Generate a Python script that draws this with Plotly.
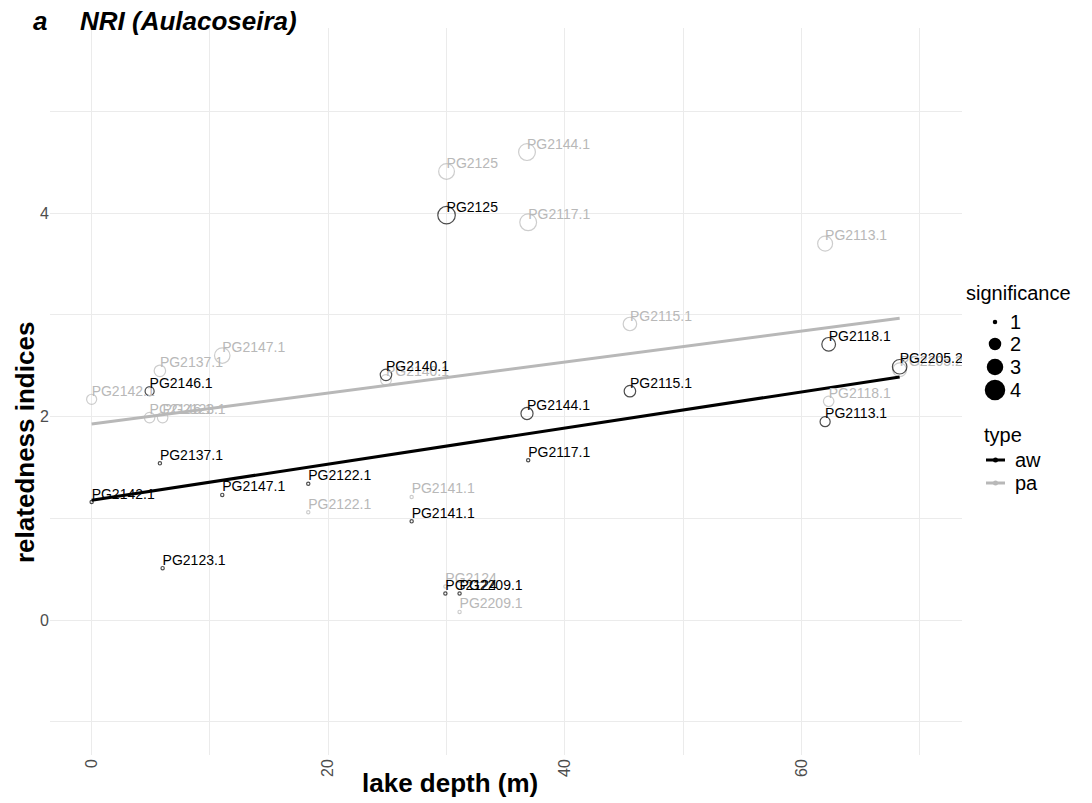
import numpy as np
import plotly.graph_objects as go

# ---------------- data ----------------
lakes = ["PG2142.1", "PG2146.1", "PG2123.1", "PG2137.1", "PG2147.1", "PG2122.1",
         "PG2140.1", "PG2141.1", "PG2125", "PG2124", "PG2209.1", "PG2144.1",
         "PG2117.1", "PG2115.1", "PG2113.1", "PG2118.1", "PG2205.2"]
depth = [0.0, 4.9, 6.0, 5.77, 11.04, 18.31, 24.88, 27.05, 30.0, 29.9, 31.1, 36.8,
         36.9, 45.5, 62.0, 62.3, 68.3]
aw_nri = [1.16, 2.25, 0.51, 1.54, 1.23, 1.34, 2.41, 0.97, 3.98, 0.26, 0.26, 2.03,
          1.57, 2.25, 1.95, 2.71, 2.49]
pa_nri = [2.17, 1.99, 1.99, 2.45, 2.60, 1.06, 2.36, 1.21, 4.41, 0.33, 0.08, 4.60,
          3.91, 2.91, 3.70, 2.15, 2.46]
aw_sig = [1.0, 1.72, 1.0, 1.0, 1.0, 1.0, 2.05, 1.0, 3.55, 1.0, 1.0, 2.2,
          1.0, 2.05, 1.85, 2.6, 2.8]
pa_sig = [1.85, 1.9, 1.9, 2.05, 3.05, 1.0, 1.94, 1.0, 3.12, 1.0, 1.0, 3.375,
          3.375, 2.55, 2.9, 1.9, 2.6]

sig_breaks = [1, 2, 3, 4]
type_labels = ["aw", "pa"]

# ---------------- styling ----------------
FONT = "Liberation Sans"
BLACK = "#000000"
GREY = "#B8B8B8"
GRID = "#EBEBEB"
TICK = "#4D4D4D"
size_px = [4.5, 12.5, 16.5, 20.5]   # size scale (significance -> diameter px)


def sig_to_diam(s):
    return np.interp(np.asarray(s, dtype=float), sig_breaks, size_px)


W, H = 1092, 803
L, R, T, B = 50, 962, 28, 755


def px(x):
    return (x - L) / (R - L)


def py(y):
    return (B - y) / (B - T)


fig = go.Figure()

series = [("pa", pa_nri, pa_sig, GREY), ("aw", aw_nri, aw_sig, BLACK)]

# points (open circles)
for name, vals, sig, col in series:
    fig.add_trace(go.Scatter(
        x=depth, y=vals, mode="markers", showlegend=False, hoverinfo="skip",
        marker=dict(symbol="circle-open", size=sig_to_diam(sig) - 1.2,
                    color=col, line=dict(width=1.2, color=col)),
    ))

# linear fits
for name, vals, sig, col in series:
    xs = np.array(depth)
    k, b = np.polyfit(xs, np.array(vals), 1)
    xl = np.array([xs.min(), xs.max()])
    fig.add_trace(go.Scatter(x=xl, y=k * xl + b, mode="lines", showlegend=False,
                             hoverinfo="skip", line=dict(color=col, width=3)))

# labels
for name, vals, sig, col in series:
    fig.add_trace(go.Scatter(
        x=depth, y=vals, mode="text", text=lakes, textposition="top right",
        textfont=dict(family=FONT, size=14, color=col), showlegend=False,
        hoverinfo="skip",
    ))

annotations = []
shapes = []

# titles
annotations.append(dict(text="a", x=px(31), y=py(21), xref="paper", yref="paper",
                        xanchor="left", yanchor="middle", showarrow=False,
                        font=dict(family=FONT, size=26, color=BLACK, weight="bold", style="italic")))
annotations.append(dict(text="NRI (Aulacoseira)", x=px(78), y=py(21), xref="paper", yref="paper",
                        xanchor="left", yanchor="middle", showarrow=False,
                        font=dict(family=FONT, size=26, color=BLACK, weight="bold", style="italic")))
annotations.append(dict(text="lake depth (m)", x=px(450), y=py(783), xref="paper", yref="paper",
                        xanchor="center", yanchor="middle", showarrow=False,
                        font=dict(family=FONT, size=26, color=BLACK, weight="bold")))
annotations.append(dict(text="relatedness indices", x=px(25), y=py(443), xref="paper", yref="paper",
                        xanchor="center", yanchor="middle", showarrow=False, textangle=-90,
                        font=dict(family=FONT, size=26, color=BLACK, weight="bold")))

# legend: significance
annotations.append(dict(text="significance", x=px(964), y=py(293), xref="paper", yref="paper",
                        xanchor="left", yanchor="middle", showarrow=False,
                        font=dict(family=FONT, size=20, color=BLACK)))
leg_y = [322, 344, 367, 390]
for s, yy, d in zip(sig_breaks, leg_y, sig_to_diam(sig_breaks)):
    shapes.append(dict(type="circle", xref="paper", yref="paper",
                       xsizemode="pixel", ysizemode="pixel",
                       xanchor=px(995), yanchor=py(yy),
                       x0=-d / 2, x1=d / 2, y0=-d / 2, y1=d / 2,
                       fillcolor=BLACK, line=dict(width=0)))
    annotations.append(dict(text=str(s), x=px(1008), y=py(yy), xref="paper", yref="paper",
                            xanchor="left", yanchor="middle", showarrow=False,
                            font=dict(family=FONT, size=20, color=BLACK)))

# legend: type
annotations.append(dict(text="type", x=px(982), y=py(435), xref="paper", yref="paper",
                        xanchor="left", yanchor="middle", showarrow=False,
                        font=dict(family=FONT, size=20, color=BLACK)))
for lab, col, yy in zip(type_labels, [BLACK, GREY], [460, 483]):
    shapes.append(dict(type="line", xref="paper", yref="paper",
                       x0=px(986), x1=px(1005), y0=py(yy), y1=py(yy),
                       line=dict(color=col, width=3)))
    shapes.append(dict(type="circle", xref="paper", yref="paper",
                       xsizemode="pixel", ysizemode="pixel",
                       xanchor=px(995.5), yanchor=py(yy),
                       x0=-2.5, x1=2.5, y0=-2.5, y1=2.5,
                       fillcolor=col, line=dict(width=0)))
    annotations.append(dict(text=lab, x=px(1013), y=py(yy), xref="paper", yref="paper",
                            xanchor="left", yanchor="middle", showarrow=False,
                            font=dict(family=FONT, size=20, color=BLACK)))

fig.update_layout(
    width=W, height=H,
    margin=dict(l=L, r=W - R, t=T, b=H - B, pad=0),
    paper_bgcolor="white", plot_bgcolor="white",
    showlegend=False,
    annotations=annotations, shapes=shapes,
    xaxis=dict(range=[-3.52, 73.57], tickmode="linear", tick0=0, dtick=20,
               showgrid=True, gridcolor=GRID, gridwidth=1.3,
               minor=dict(tick0=0, dtick=10, showgrid=True, gridcolor=GRID, gridwidth=1.1),
               zeroline=False, showline=False, ticks="", tickangle=-90,
               tickfont=dict(family=FONT, size=16, color=TICK)),
    yaxis=dict(range=[-1.327, 5.82], tickmode="linear", tick0=0, dtick=2,
               showgrid=True, gridcolor=GRID, gridwidth=1.3,
               minor=dict(tick0=0, dtick=1, showgrid=True, gridcolor=GRID, gridwidth=1.1),
               zeroline=False, showline=False, ticks="",
               tickfont=dict(family=FONT, size=16, color=TICK)),
)

fig.write_html(
    "out.html",
    config={"displayModeBar": False},
    post_script="document.body.style.margin='0';document.body.style.padding='0';"
                "document.body.style.overflow='hidden';",
)
